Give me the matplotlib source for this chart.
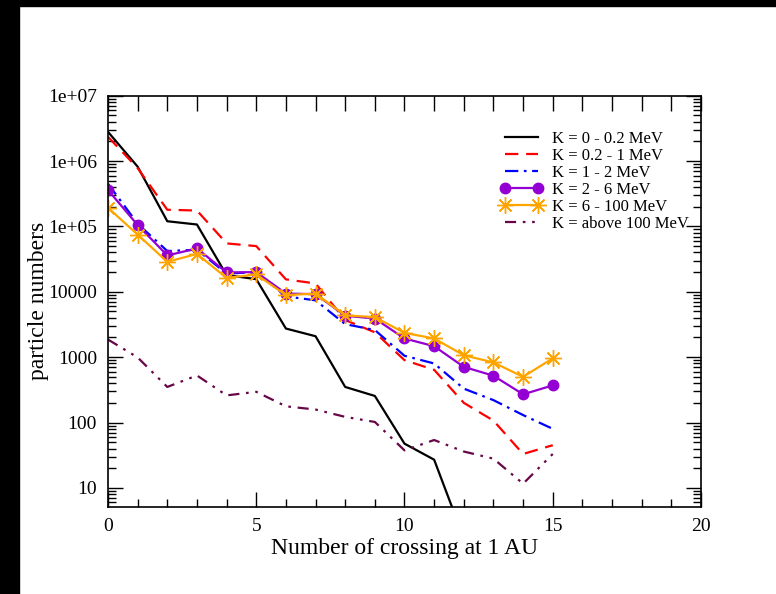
import matplotlib
matplotlib.use("Agg")
import matplotlib.pyplot as plt
from matplotlib.patches import Rectangle
from matplotlib.ticker import FixedLocator, FuncFormatter, MultipleLocator, LogLocator
import numpy as np

plt.rcParams['font.family'] = ['Liberation Serif', 'DejaVu Serif']

crossings = list(range(16))
k_0_02 = [2.8e6, 8.2e5, 1.2e5, 1.07e5, 1.8e4, 1.56e4, 2740, 2090, 350, 255, 47.5, 27, 1.7]
k_02_1 = [2.35e6, 7.8e5, 1.8e5, 1.75e5, 5.5e4, 5.0e4, 1.55e4, 1.34e4, 3700, 2400, 900, 640, 200, 107, 33, 45]
k_1_2 = [4.5e5, 1.1e5, 4.2e4, 4.4e4, 1.9e4, 2.0e4, 8500, 7400, 3200, 2600, 1050, 800, 330, 220, 130, 80]
k_2_6 = [3.6e5, 1.05e5, 3.6e4, 4.6e4, 1.98e4, 2.0e4, 9400, 9200, 4300, 3900, 1930, 1470, 710, 520, 270, 370]
k_6_100 = [1.93e5, 7.5e4, 2.87e4, 3.8e4, 1.63e4, 1.84e4, 8900, 9400, 4350, 4100, 2350, 1930, 1070, 830, 500, 960]
k_above_100 = [1860, 990, 350, 525, 260, 295, 177, 158, 122, 102, 37.5, 54, 36, 28, 11.6, 33]

labels = ["K = 0 - 0.2 MeV", "K = 0.2 - 1 MeV", "K = 1 - 2 MeV",
          "K = 2 - 6 MeV", "K = 6 - 100 MeV", "K = above 100 MeV"]
ytick_vals = [10, 100, 1000, 10000, 1e5, 1e6, 1e7]
ytick_labels = ["10", "100", "1000", "10000", "1e+05", "1e+06", "1e+07"]

fig = plt.figure(figsize=(7.76, 5.94), dpi=100)
fig.patch.set_facecolor('white')
ax = fig.add_axes([108/776, 1 - 507/594, (701-108)/776, (507-95.7)/594])

ax.plot(crossings[:len(k_0_02)], k_0_02, color='black', lw=1.6, label=labels[0])
ax.plot(crossings, k_02_1, color='#ff0000', lw=1.6, dashes=(6, 3.5), label=labels[1])
ax.plot(crossings, k_1_2, color='#0000ff', lw=1.6, dashes=(6, 2.5, 1.2, 2.5), label=labels[2])
ax.plot(crossings, k_2_6, color='#9400d3', lw=1.6, marker='o', ms=7.5, mec='#9400d3', label=labels[3])
ax.plot(crossings, k_6_100, color='#ffa500', lw=1.6, marker=(8, 2, 0), ms=12, mew=1.0, label=labels[4])
ax.plot(crossings, k_above_100, color='#670748', lw=1.6, dashes=(5, 3, 1.2, 3, 1.2, 3), label=labels[5])

ax.set_yscale('log')
ax.set_xlim(0, 20)
ax.set_ylim(5.1, 1e7)
ax.yaxis.set_major_locator(FixedLocator(ytick_vals))
ax.yaxis.set_major_formatter(FuncFormatter(lambda v, p: ytick_labels[ytick_vals.index(v)] if v in ytick_vals else ""))
ax.yaxis.set_minor_locator(LogLocator(base=10, subs=np.arange(2, 10)))
ax.xaxis.set_major_locator(MultipleLocator(5))
ax.xaxis.set_minor_locator(MultipleLocator(1))

ax.tick_params(axis='both', which='major', direction='in', length=11, width=1, labelsize=14, pad=8,
               top=False, right=True)
ax.tick_params(axis='both', which='minor', direction='in', length=6, width=1, top=False, right=True)
sec = ax.secondary_xaxis('top')
sec.xaxis.set_major_locator(MultipleLocator(1))
sec.tick_params(axis='x', which='major', direction='in', length=11, width=1, labeltop=False)
for s in sec.spines.values():
    s.set_visible(False)
for s in ax.spines.values():
    s.set_linewidth(1.2)

ax.set_xlabel("Number of crossing at 1 AU", fontsize=17, labelpad=2)
ax.set_ylabel("particle numbers", fontsize=17, labelpad=-1)

leg = ax.legend(loc='upper left', bbox_to_anchor=(500/776, 1 - 131/594), bbox_transform=fig.transFigure,
                frameon=False, fontsize=12, handlelength=2.6, handletextpad=0.5, numpoints=2,
                labelspacing=0.06, borderpad=0, borderaxespad=0)

fig.patches.append(Rectangle((0, 0), 18.5/776, 1, transform=fig.transFigure, color='black', zorder=10))
fig.patches.append(Rectangle((0, 1 - 6/594), 1, 6/594, transform=fig.transFigure, color='black', zorder=10))

fig.savefig("out.png", dpi=100, facecolor='white')
